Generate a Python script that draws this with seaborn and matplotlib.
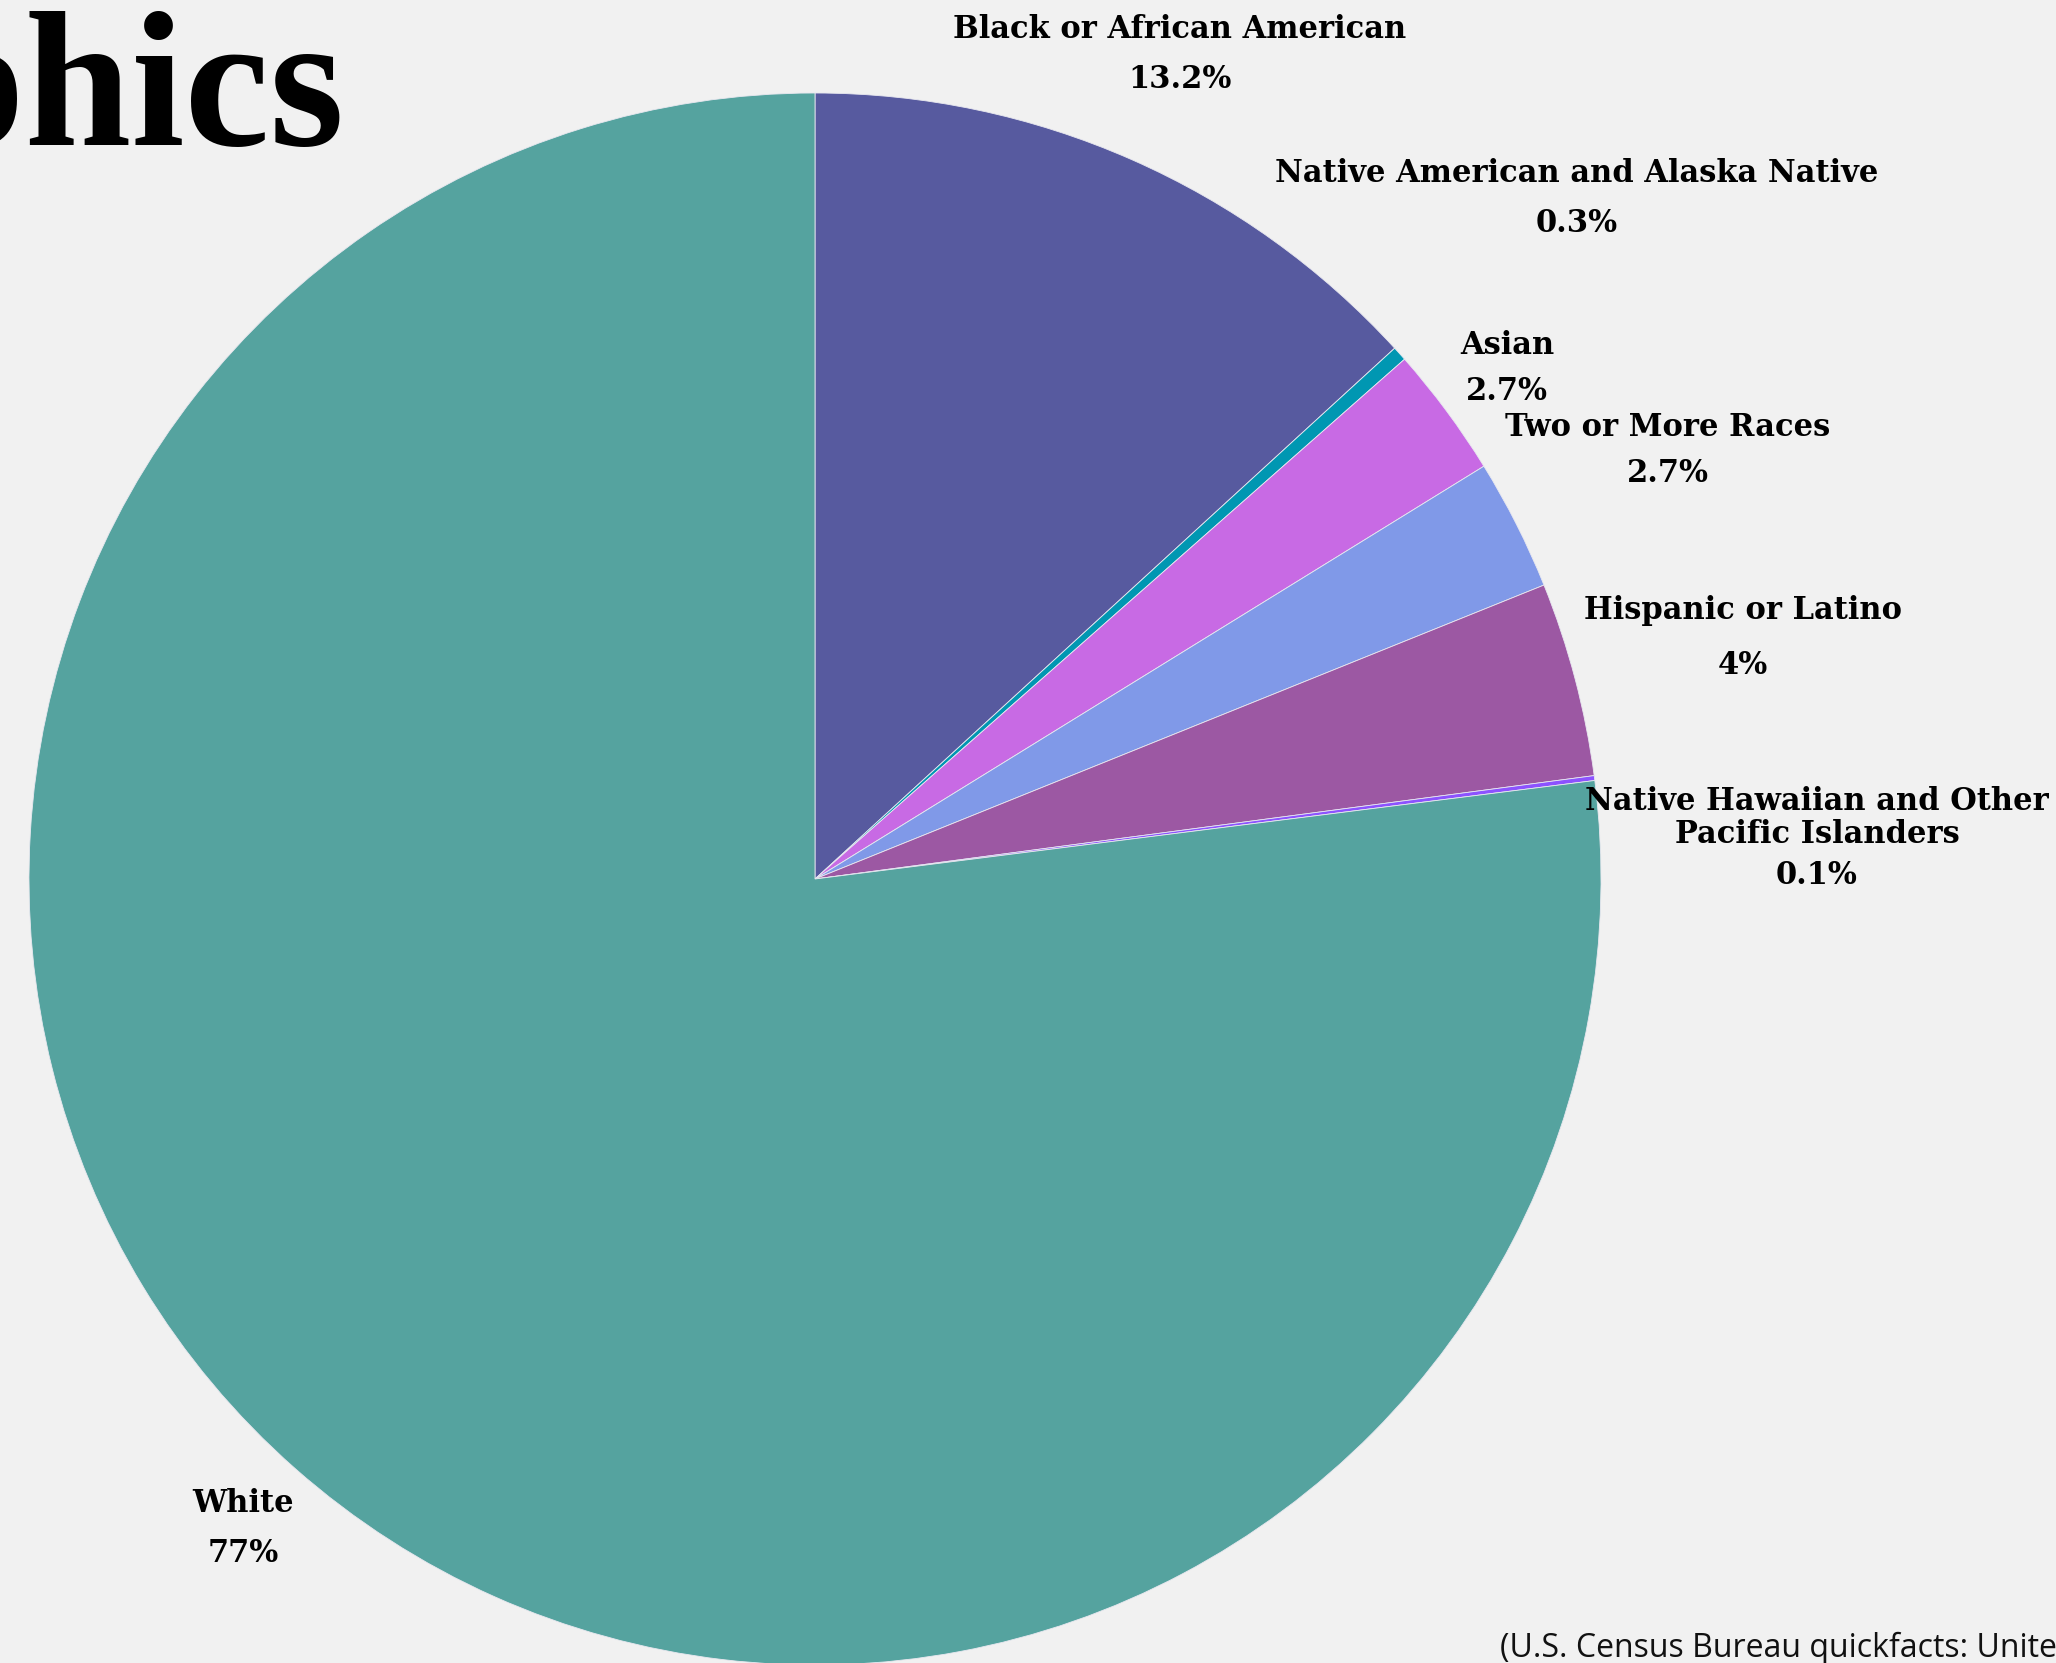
import matplotlib
matplotlib.use("Agg")
import matplotlib.pyplot as plt
import seaborn as sns

# ---- data ----
categories = ["Black or African American", "Native American and Alaska Native", "Asian",
              "Two or More Races", "Hispanic or Latino",
              "Native Hawaiian and Other\nPacific Islanders", "White"]
values = [13.2, 0.3, 2.7, 2.7, 4.0, 0.1, 77.0]
value_labels = ["13.2%", "0.3%", "2.7%", "2.7%", "4%", "0.1%", "77%"]
colors = ["#575A9F", "#0097B2", "#C86AE4", "#8099E8", "#9C58A3", "#8C52FF", "#55A39F"]

W, H = 2056, 1663
BG = "#F1F1F1"

sns.set_theme(style="white")
plt.rcParams["font.family"] = ["DejaVu Serif"]

fig = plt.figure(figsize=(W / 100, H / 100), dpi=100, facecolor=BG)
ax = fig.add_axes([0, 0, 1, 1])
ax.set_facecolor(BG)

cx, cy, r = 815, H - 879, 786
ax.pie(values, colors=colors, startangle=90, counterclock=False,
       center=(cx, cy), radius=r, frame=True,
       wedgeprops=dict(linewidth=0.6, edgecolor="#E8E8F0"))
ax.set_xlim(0, W)
ax.set_ylim(0, H)
ax.set_aspect("equal", adjustable="box")
ax.axis("off")

# label positions in image pixels (x, name y, value y)
label_pos = [
    (1180, 30, 80),
    (1577, 174, 224),
    (1507, 346, 391),
    (1668, 427, 473),
    (1743, 610, 665),
    (1817, 818, 875),
    (243, 1504, 1553),
]
lab_font = ["DejaVu Serif"]
for cat, val, (x, yn, yv) in zip(categories, value_labels, label_pos):
    ax.text(x, H - yn, cat, ha="center", va="center", fontsize=22,
            fontweight="bold", color="black", linespacing=1.1, family=lab_font)
    ax.text(x, H - yv, val, ha="center", va="center", fontsize=22,
            fontweight="bold", color="black", family=lab_font)

# title (cropped at left edge)
ax.text(345, H - 145, "Demographics", ha="right", va="baseline", fontsize=138,
        fontweight="bold", color="black", family=["Liberation Serif", "DejaVu Serif"])

# source
ax.text(1500, H - 1657, "(U.S. Census Bureau quickfacts: United States)", ha="left",
        va="baseline", fontsize=23, color="#111111", family=["Open Sans", "DejaVu Sans"])

fig.savefig("out.png", dpi=100, facecolor=BG)
